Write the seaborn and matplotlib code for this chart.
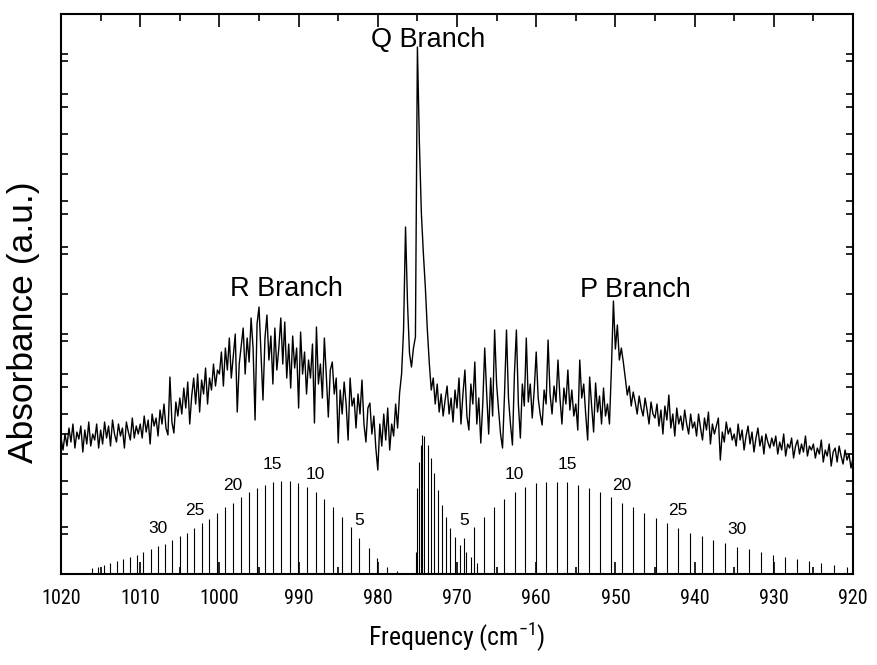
import numpy as np
import matplotlib
matplotlib.use('Agg')
import matplotlib.pyplot as plt
from matplotlib import font_manager
from matplotlib.ticker import MultipleLocator, FixedLocator
import seaborn as sns

# measured spectrum, 1020 -> 920 cm-1 in 0.25 cm-1 steps (arbitrary units, 0-560)
absorbance = (
    [136, 124, 140, 128, 146, 132, 150, 126, 142, 135, 148, 122, 144, 130, 152, 128, 140, 134, 150, 126]
    + [144, 130, 152, 136, 148, 128, 154, 140, 132, 150, 138, 146, 126, 152, 142, 134, 156, 136, 148, 140]
    + [150, 136, 158, 142, 154, 130, 160, 148, 156, 138, 164, 150, 170, 146, 139, 197, 152, 141, 172, 158]
    + [176, 160, 186, 166, 192, 150, 178, 196, 170, 200, 162, 194, 180, 206, 170, 196, 184, 210, 188, 204]
    + [200, 222, 188, 226, 204, 236, 196, 218, 240, 162, 210, 228, 246, 200, 236, 212, 256, 226, 154, 250]
    + [267, 220, 174, 236, 259, 214, 238, 190, 246, 204, 226, 256, 210, 252, 196, 230, 186, 238, 206, 226]
    + [166, 242, 200, 222, 180, 214, 196, 230, 151, 247, 190, 210, 176, 236, 198, 157, 204, 212, 180, 196]
    + [131, 184, 160, 192, 170, 134, 196, 168, 176, 146, 180, 160, 194, 150, 132, 166, 171, 140, 158, 126]
    + [104, 150, 128, 160, 134, 166, 124, 150, 138, 170, 146, 181, 200, 244, 347, 271, 221, 207, 226, 237]
    + [527, 431, 361, 321, 287, 245, 211, 184, 196, 170, 190, 162, 180, 158, 174, 188, 160, 176, 152, 184]
    + [166, 196, 150, 180, 204, 158, 144, 190, 170, 212, 150, 176, 131, 170, 226, 180, 140, 196, 158, 244]
    + [190, 164, 140, 126, 180, 244, 176, 150, 129, 200, 244, 170, 136, 190, 168, 236, 172, 190, 156, 184]
    + [222, 176, 160, 149, 184, 170, 234, 180, 160, 188, 172, 214, 176, 150, 186, 170, 204, 164, 184, 158]
    + [170, 144, 214, 176, 190, 160, 134, 197, 168, 142, 191, 162, 178, 150, 186, 158, 170, 150, 206, 273]
    + [225, 249, 214, 226, 212, 196, 179, 188, 168, 182, 172, 160, 178, 166, 158, 176, 164, 150, 172, 160]
    + [156, 170, 148, 164, 140, 168, 154, 179, 146, 160, 138, 166, 150, 158, 144, 164, 150, 140, 160, 146]
    + [152, 138, 160, 146, 134, 156, 144, 162, 130, 150, 140, 148, 156, 114, 142, 132, 152, 140, 146, 134]
    + [140, 128, 150, 134, 144, 124, 138, 148, 130, 142, 122, 136, 146, 128, 138, 120, 140, 132, 126, 136]
    + [128, 138, 120, 132, 124, 140, 118, 130, 126, 136, 116, 128, 134, 120, 130, 122, 138, 118, 128, 124]
    + [130, 116, 126, 120, 134, 112, 124, 118, 130, 108, 122, 126, 112, 128, 118, 110, 124, 114, 120, 106, 116]
)
freq = np.linspace(1020, 920, len(absorbance))

# simulated stick spectrum
r_freq = [977.62, 978.88, 980.06, 981.15, 982.33, 983.43, 984.52, 985.61, 986.75, 987.84,
          988.98, 990.03, 991.09, 992.18, 993.27, 994.28, 995.29, 996.30, 997.31, 998.32,
          999.29, 1000.26, 1001.27, 1002.20, 1003.17, 1004.09, 1004.97, 1005.94, 1006.87, 1007.75,
          1008.68, 1009.60, 1010.36, 1011.29, 1012.13, 1012.97, 1013.77, 1014.57, 1015.37, 1016.13]
r_height = [3, 7, 16, 26, 36, 47, 57, 67, 75, 82, 87, 91, 93, 93, 92, 89, 86, 82, 77, 71,
            67, 61, 55, 51, 46, 41, 38, 34, 30, 28, 25, 22, 19, 17, 15, 13, 11, 9, 7, 6]
r_j = [1, 2, 3, 4, 5, 6, 7, 8, 9, 10, 11, 12, 13, 14, 15, 16, 17, 18, 19, 20,
       21, 22, 23, 24, 25, 26, 27, 28, 29, 30, 31, 32, 33, 34, 35, 36, 37, 38, 39, 40]

q_freq = [975.21, 975.09, 974.80, 974.59, 974.38, 974.12, 973.70, 973.32, 972.90,
          972.44, 971.93, 971.43, 970.92, 970.29, 969.62, 968.86, 968.23, 967.44]
q_height = [22, 86, 112, 129, 139, 138, 129, 116, 101, 84, 69, 57, 46, 37, 29, 22, 17, 11]

p_freq = [969.15, 967.81, 966.55, 965.29, 964.03, 962.71, 961.41, 960.06, 958.72, 957.41,
          956.07, 954.72, 953.30, 951.94, 950.59, 949.20, 947.74, 946.35, 944.87, 943.52,
          942.06, 940.58, 939.10, 937.64, 936.20, 934.68, 933.17, 931.65, 930.14, 928.62,
          927.11, 925.60, 924.00, 922.40, 920.79]
p_height = [36, 47, 57, 67, 75, 82, 87, 91, 92, 92, 92, 89, 86, 82, 77, 71, 67, 61, 56, 51,
            46, 41, 38, 34, 31, 27, 25, 22, 19, 17, 15, 13, 11, 9, 7]
p_j = [5, 6, 7, 8, 9, 10, 11, 12, 13, 14, 15, 16, 17, 18, 19, 20, 21, 22, 23, 24,
       25, 26, 27, 28, 29, 30, 31, 32, 33, 34, 35, 36, 37, 38, 39]

j_labels = [5, 10, 15, 20, 25, 30]

sns.set_theme(style='ticks')

# look for a narrow sans face for the axis numbers, else plain Liberation Sans
narrow_name, narrow_stretch = 'Liberation Sans', 'normal'
for cand in ['Liberation Sans Narrow', 'Arial Narrow', 'Roboto Condensed', 'Open Sans Condensed',
             'Noto Sans Condensed', 'DejaVu Sans Condensed']:
    hits = [f for f in font_manager.fontManager.ttflist if f.name == cand]
    if hits:
        narrow_name = cand
        break
else:
    for fam in ['Liberation Sans', 'Roboto', 'Noto Sans', 'Open Sans', 'DejaVu Sans']:
        hits = [f for f in font_manager.fontManager.ttflist
                if f.name == fam and f.stretch in ('condensed', 'semi-condensed', 'extra-condensed', 500, 400, 300)
                and f.style == 'normal']
        if hits:
            narrow_name, narrow_stretch = fam, hits[0].stretch
            break

plt.rcParams['font.family'] = [narrow_name, 'Liberation Sans', 'DejaVu Sans']
plt.rcParams['font.stretch'] = narrow_stretch
plt.rcParams['mathtext.default'] = 'regular'
for key in ['text.color', 'axes.labelcolor', 'xtick.color', 'ytick.color', 'axes.edgecolor']:
    plt.rcParams[key] = 'black'

fig = plt.figure(figsize=(8.77, 6.65), dpi=100)
ax = fig.add_axes([0.0696, 0.1368, 0.9030, 0.8421])

sns.lineplot(x=freq, y=absorbance, ax=ax, color='black', linewidth=1.0,
             estimator=None, sort=False)

ax.vlines(r_freq, 0, r_height, color='black', linewidth=0.8)
ax.vlines(q_freq, 0, q_height, color='black', linewidth=0.8)
ax.vlines(p_freq, 0, p_height, color='black', linewidth=0.8)

# J labels over every fifth line
for js, fs, hs in [(r_j, r_freq, r_height), (p_j, p_freq, p_height)]:
    for j, f, h in zip(js, fs, hs):
        if j in j_labels:
            ax.text(f, h + 18, str(j), ha='center', va='center',
                    fontsize=12.5, family='Liberation Sans', stretch='normal')

ax.text(973.6, 534, 'Q Branch', ha='center', va='center', fontsize=19.5,
        family='Liberation Sans', stretch='normal')
ax.text(991.6, 285, 'R Branch', ha='center', va='center', fontsize=19.5,
        family='Liberation Sans', stretch='normal')
ax.text(947.5, 284, 'P Branch', ha='center', va='center', fontsize=19.5,
        family='Liberation Sans', stretch='normal')

ax.set_xlim(1020, 920)
ax.set_ylim(0, 560)
ax.xaxis.set_major_locator(MultipleLocator(10))
ax.xaxis.set_minor_locator(MultipleLocator(5))
ax.yaxis.set_major_locator(MultipleLocator(40))
ax.yaxis.set_minor_locator(FixedLocator(np.linspace(0, 560, 13)))

ax.tick_params(axis='both', which='both', direction='in', top=True, right=True,
               labelleft=False, width=1.2, color='black')
ax.tick_params(axis='x', which='major', length=9, labelsize=14.5, pad=11)
ax.tick_params(axis='x', which='minor', length=5)
ax.tick_params(axis='y', which='both', length=5)

for s in ax.spines.values():
    s.set_linewidth(1.5)
    s.set_color('black')

ax.set_xlabel(r'Frequency (cm$^{-1}$)', fontsize=18.5, labelpad=9)
ax.set_ylabel('Absorbance (a.u.)', fontsize=25.5, family='Liberation Sans', stretch='normal')
ax.yaxis.set_label_coords(-0.027, 0.45)

fig.savefig('out.png', dpi=100)
